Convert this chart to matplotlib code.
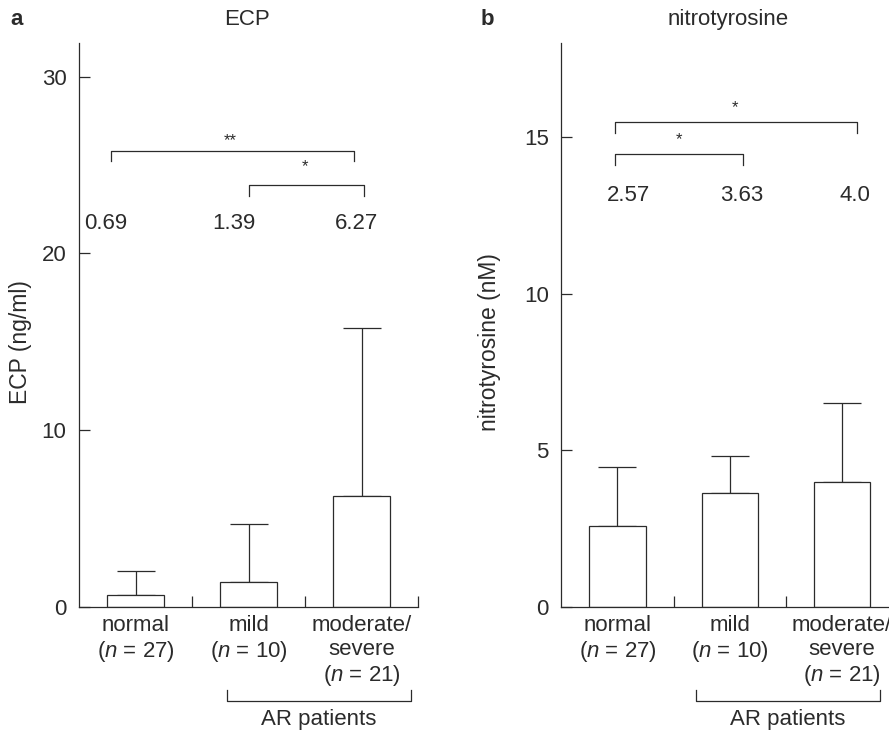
import matplotlib
matplotlib.use("Agg")
import matplotlib.pyplot as plt
import numpy as np

plt.rcParams['font.family'] = ['Liberation Sans', 'DejaVu Sans']
plt.rcParams['mathtext.fontset'] = 'custom'
plt.rcParams['mathtext.rm'] = 'Liberation Sans'
plt.rcParams['mathtext.it'] = 'Liberation Sans:italic'

# data
groups = ["normal\n($n$ = 27)", "mild\n($n$ = 10)", "moderate/\nsevere\n($n$ = 21)"]
ecp_mean = [0.69, 1.39, 6.27]
ecp_err = [1.36, 3.31, 9.5]
ecp_labels = ["0.69", "1.39", "6.27"]
nt_mean = [2.57, 3.63, 4.0]
nt_err = [1.89, 1.18, 2.5]
nt_labels = ["2.57", "3.63", "4.0"]

ink = '#2b2b2b'
lw = 0.9
fs = 16

fig = plt.figure(figsize=(8.89, 7.32), dpi=100)
axA = fig.add_axes([0.0889, 0.1708, 0.3813, 0.7705])
axB = fig.add_axes([0.6314, 0.1708, 0.379, 0.7705])


def panel(ax, mean, err, ylim, yticks):
    x = np.arange(len(mean))
    ax.bar(x, mean, width=0.5, color='white', edgecolor=ink, linewidth=lw, zorder=2)
    ax.errorbar(x, mean, yerr=[np.zeros(len(err)), err], fmt='none', ecolor=ink,
                elinewidth=lw, capsize=14, capthick=lw, zorder=1)
    ax.set_xlim(-0.5, 2.5)
    ax.set_ylim(0, ylim)
    ax.set_yticks(yticks)
    ax.set_xticks(x)
    ax.set_xticklabels(groups, fontsize=fs, linespacing=1.17)
    ax.set_xticks([0.5, 1.5, 2.5], minor=True)
    ax.tick_params(axis='x', which='major', length=0, pad=6, colors=ink)
    ax.tick_params(axis='x', which='minor', direction='in', length=8, width=lw, color=ink)
    ax.tick_params(axis='y', direction='in', length=8, width=lw, pad=9, labelsize=fs, colors=ink)
    for s in ['top', 'right']:
        ax.spines[s].set_visible(False)
    for s in ['left', 'bottom']:
        ax.spines[s].set_linewidth(lw)
        ax.spines[s].set_color(ink)


def bracket(ax, x0, x1, y, drop, star, sx, sy):
    ax.plot([x0, x0, x1, x1], [y - drop, y, y, y - drop], color=ink, lw=lw, clip_on=False)
    ax.text(sx, sy, star, ha='center', va='center', fontsize=12, color=ink)


def ar_bracket(ax, x0, x1, xt):
    tr = ax.get_xaxis_transform()
    ax.plot([x0, x0, x1, x1], [-0.148, -0.167, -0.167, -0.148], color=ink, lw=lw,
            transform=tr, clip_on=False)
    ax.text(xt, -0.200, "AR patients", transform=tr, ha='center', va='center',
            fontsize=fs, color=ink)


# panel a
panel(axA, ecp_mean, ecp_err, 31.9, [0, 10, 20, 30])
axA.set_ylabel("ECP (ng/ml)", fontsize=16.5, color=ink)
axA.yaxis.set_label_coords(-0.138, 0.47)
for xp, lab in zip([-0.26, 0.87, 1.96], ecp_labels):
    axA.text(xp, 21.7, lab, ha='center', va='center', fontsize=16, color=ink)
bracket(axA, -0.22, 1.93, 25.8, 0.6, '**', 0.84, 26.4)
bracket(axA, 1.0, 2.02, 23.85, 0.6, '*', 1.5, 24.9)
ar_bracket(axA, 0.806, 2.438, 1.622)

# panel b
panel(axB, nt_mean, nt_err, 18.0, [0, 5, 10, 15])
axB.set_ylabel("nitrotyrosine (nM)", fontsize=16.5, color=ink)
axB.yaxis.set_label_coords(-0.179, 0.47)
for xp, lab in zip([0.10, 1.11, 2.11], nt_labels):
    axB.text(xp, 13.14, lab, ha='center', va='center', fontsize=16, color=ink)
bracket(axB, -0.02, 2.13, 15.48, 0.34, '*', 1.05, 15.95)
bracket(axB, -0.02, 1.12, 14.45, 0.36, '*', 0.55, 14.9)
ar_bracket(axB, 0.695, 2.336, 1.516)

fig.text(0.2775, 0.974, "ECP", ha='center', va='center', fontsize=fs, color=ink)
fig.text(0.0188, 0.974, "a", ha='center', va='center', fontsize=fs, fontweight='bold', color=ink)
fig.text(0.8192, 0.974, "nitrotyrosine", ha='center', va='center', fontsize=fs, color=ink)
fig.text(0.548, 0.974, "b", ha='center', va='center', fontsize=fs, fontweight='bold', color=ink)

fig.savefig("out.png", dpi=100)
